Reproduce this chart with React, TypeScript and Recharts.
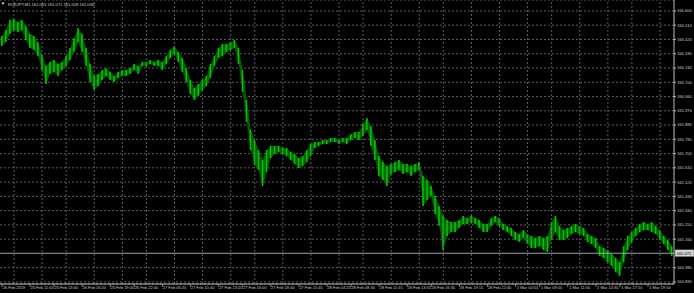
import { ComposedChart, Area, Bar, XAxis, YAxis, CartesianGrid, ReferenceLine } from 'recharts'

const symbol = 'EURJPY,M5'
const ohlcInfo = ['165.063', '165.071', '165.058', '165.068']
const lastPrice = 165.071

// M5 bars, sampled left to right (high / low)
const highs = [
  166.442, 166.48, 166.543, 166.549, 166.53, 166.543, 166.505, 166.454, 166.442, 166.404,
  166.322, 166.252, 166.278, 166.29, 166.265, 166.278, 166.316, 166.366, 166.429, 166.492,
  166.454, 166.366, 166.265, 166.189, 166.202, 166.227, 166.24, 166.215, 166.189, 166.215,
  166.227, 166.227, 166.24, 166.265, 166.252, 166.278, 166.278, 166.29, 166.278, 166.29,
  166.278, 166.316, 166.353, 166.379, 166.341, 166.303, 166.24, 166.164, 166.114, 166.139,
  166.164, 166.189, 166.265, 166.316, 166.366, 166.391, 166.391, 166.404, 166.417, 166.366,
  166.227, 166.038, 165.849, 165.785, 165.722, 165.659, 165.722, 165.748, 165.748, 165.748,
  165.735, 165.735, 165.71, 165.697, 165.672, 165.684, 165.722, 165.76, 165.773, 165.773,
  165.785, 165.785, 165.798, 165.798, 165.785, 165.798, 165.798, 165.823, 165.836, 165.836,
  165.886, 165.924, 165.874, 165.785, 165.684, 165.647, 165.621, 165.634, 165.647, 165.659,
  165.634, 165.634, 165.621, 165.634, 165.647, 165.558, 165.533, 165.495, 165.432, 165.369,
  165.306, 165.281, 165.268, 165.268, 165.281, 165.306, 165.293, 165.306, 165.293, 165.281,
  165.255, 165.255, 165.293, 165.306, 165.293, 165.255, 165.243, 165.23, 165.205, 165.192,
  165.217, 165.192, 165.18, 165.167, 165.18, 165.167, 165.18, 165.268, 165.306, 165.243,
  165.217, 165.23, 165.243, 165.255, 165.243, 165.23, 165.192, 165.18, 165.167, 165.116,
  165.104, 165.091, 165.066, 165.041, 165.016, 165.116, 165.18, 165.205, 165.23, 165.255,
  165.268, 165.255, 165.268, 165.243, 165.217, 165.18, 165.154, 165.116,
]
const lows = [
  166.379, 166.404, 166.454, 166.48, 166.467, 166.48, 166.417, 166.366, 166.353, 166.316,
  166.227, 166.139, 166.202, 166.215, 166.189, 166.227, 166.252, 166.29, 166.341, 166.404,
  166.341, 166.252, 166.151, 166.101, 166.126, 166.164, 166.189, 166.164, 166.151, 166.177,
  166.189, 166.189, 166.202, 166.227, 166.202, 166.252, 166.252, 166.265, 166.252, 166.252,
  166.227, 166.265, 166.303, 166.328, 166.278, 166.215, 166.151, 166.076, 166.038, 166.063,
  166.101, 166.126, 166.177, 166.252, 166.303, 166.316, 166.341, 166.353, 166.366, 166.265,
  166.088, 165.899, 165.722, 165.628, 165.596, 165.495, 165.584, 165.672, 165.697, 165.71,
  165.697, 165.684, 165.659, 165.634, 165.609, 165.621, 165.647, 165.684, 165.735, 165.748,
  165.76, 165.76, 165.773, 165.773, 165.76, 165.773, 165.76, 165.785, 165.798, 165.785,
  165.811, 165.849, 165.748, 165.659, 165.558, 165.533, 165.495, 165.571, 165.584, 165.596,
  165.571, 165.584, 165.558, 165.584, 165.596, 165.369, 165.407, 165.432, 165.318, 165.243,
  165.091, 165.18, 165.205, 165.205, 165.23, 165.255, 165.255, 165.268, 165.255, 165.23,
  165.205, 165.205, 165.243, 165.268, 165.243, 165.217, 165.205, 165.18, 165.154, 165.142,
  165.167, 165.129, 165.104, 165.104, 165.116, 165.091, 165.079, 165.154, 165.205, 165.154,
  165.154, 165.167, 165.192, 165.205, 165.192, 165.18, 165.142, 165.129, 165.104, 165.053,
  165.041, 165.016, 164.99, 164.952, 164.927, 165.016, 165.091, 165.142, 165.18, 165.205,
  165.217, 165.217, 165.205, 165.192, 165.154, 165.129, 165.091, 165.053,
]

const priceTicks = [
  166.6, 166.51, 166.42, 166.33, 166.24, 166.15, 166.06, 165.97, 165.88, 165.79,
  165.7, 165.61, 165.52, 165.43, 165.34, 165.25, 165.16, 164.98, 164.89,
]

const timeLabels = [
  '26 Feb 2019', '26 Feb 11:00', '26 Feb 13:40', '26 Feb 16:20', '26 Feb 19:00',
  '26 Feb 22:40', '27 Feb 06:20', '27 Feb 10:40', '27 Feb 13:20', '27 Feb 16:00',
  '27 Feb 18:40', '27 Feb 21:45', '28 Feb 04:25', '28 Feb 08:30', '28 Feb 11:15',
  '28 Feb 13:55', '28 Feb 16:35', '28 Feb 19:15', '28 Feb 22:40', '1 Mar 04:55',
  '1 Mar 09:10', '1 Mar 11:50', '1 Mar 14:30', '1 Mar 17:10', '1 Mar 19:50',
]
// bar index under each time label
const timeLabelBars = [
  3, 10, 16, 23, 30, 36, 43, 50, 57, 63, 70, 77, 84,
  90, 97, 104, 110, 117, 124, 131, 137, 144, 151, 157, 164,
]

const rows = highs.map((h, i) => ({ i, range: [lows[i], h] }))

const FONT = 'Liberation Sans'
const TEXT = '#c8c8c8'
const GRID = '#5c5c5c'

function TimeTick(props: any) {
  const { x, y, index } = props
  return (
    <g>
      <line x1={x - 12} x2={x - 12} y1={y} y2={y + 3} stroke={TEXT} strokeWidth={0.6} />
      <text x={x} y={y + 5} textAnchor="middle" fontSize={4} fill={TEXT} fontFamily={FONT}>
        {timeLabels[index]}
      </text>
    </g>
  )
}

function BidLabel(props: any) {
  const vb = props.viewBox
  const x = vb.x + vb.width
  const y = vb.y
  return (
    <g>
      <rect x={x + 1} y={y - 3.5} width={19} height={7} fill="#d4d4d4" stroke="#505050" strokeWidth={0.5} />
      <text x={x + 2.5} y={y + 1.5} fontSize={4.1} fill="#000" fontFamily={FONT}>
        {lastPrice.toFixed(3)}
      </text>
    </g>
  )
}

export default function App() {
  return (
    <div style={{ position: 'fixed', left: 0, top: 0, width: 694, height: 293, background: '#000', overflow: 'hidden' }}>
      <ComposedChart width={694} height={293} data={rows} margin={{ top: 0, right: 0, bottom: 0, left: 0 }}>
        <CartesianGrid stroke={GRID} strokeDasharray="2 2" vertical={false} />
        {timeLabelBars.map((b) => (
          <ReferenceLine key={b} x={b} stroke={GRID} strokeDasharray="2 2" />
        ))}
        <XAxis
          dataKey="i"
          ticks={timeLabelBars}
          interval={0}
          height={9}
          tickSize={0}
          tickMargin={0}
          tickLine={false}
          tick={<TimeTick />}
          axisLine={{ stroke: '#bdbdbd' }}
        />
        <YAxis
          orientation="right"
          width={20}
          domain={[164.877, 166.669]}
          allowDataOverflow
          ticks={priceTicks}
          interval={0}
          tickFormatter={(v: number) => v.toFixed(3)}
          tick={{ fill: TEXT, fontSize: 4.1, fontFamily: FONT }}
          tickSize={2}
          tickMargin={1}
          tickLine={{ stroke: '#bdbdbd' }}
          axisLine={{ stroke: '#bdbdbd' }}
        />
        <Area
          dataKey="range"
          type="linear"
          fill="#006e00"
          fillOpacity={0.85}
          stroke="none"
          isAnimationActive={false}
        />
        <Bar dataKey="range" fill="#00c800" barSize={1.5} isAnimationActive={false} />
        <ReferenceLine y={lastPrice} stroke="#9aa0b4" strokeWidth={1} label={BidLabel} />
      </ComposedChart>
      <svg width={200} height={9} style={{ position: 'absolute', left: 0, top: 0 }}>
        <path d="M1.5 2.5 L4.5 2.5 L3 5 Z" fill="#e0e0e0" />
        <text x={8} y={6} fontSize={4.1} fill={TEXT} fontFamily={FONT}>
          {symbol}  {ohlcInfo.join(' ')}
        </text>
      </svg>
    </div>
  )
}
